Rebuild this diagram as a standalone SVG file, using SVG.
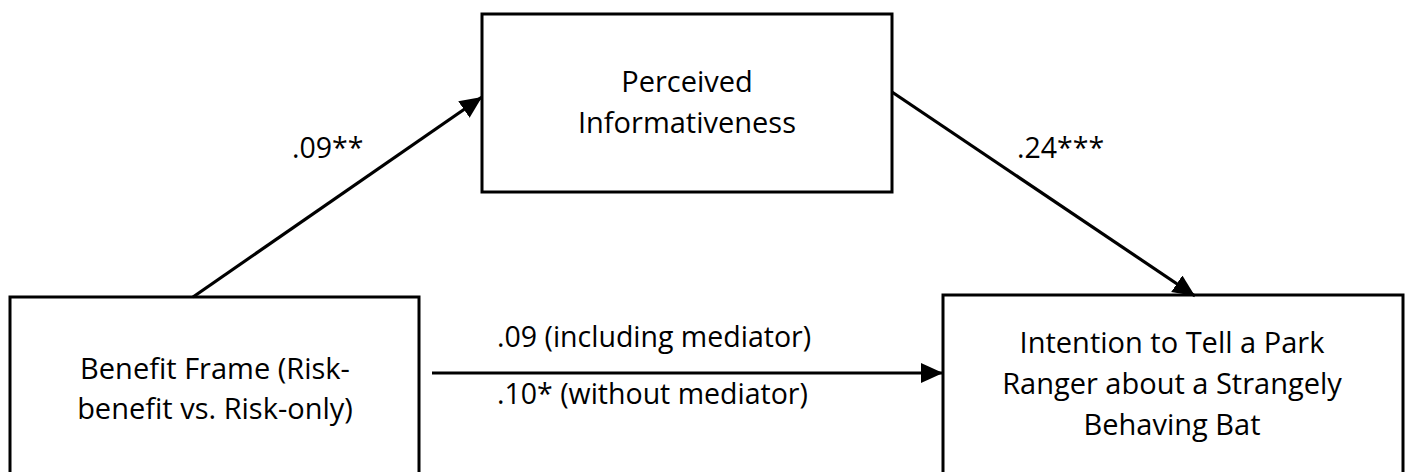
<svg xmlns="http://www.w3.org/2000/svg" width="1406" height="472" viewBox="0 0 1406 472">
  <style>
    .box { fill: #ffffff; stroke: #000000; stroke-width: 3; }
    .node-text { font-family: "Open Sans", "Liberation Sans", sans-serif; font-size: 29px; fill: #000000; text-anchor: middle; }
    .edge { stroke: #000000; stroke-width: 3.2; fill: none; marker-end: url(#arrow); }
    .edge-label { font-family: "Open Sans", "Liberation Sans", sans-serif; font-size: 28.5px; fill: #000000; }
  </style>
  <defs>
    <marker id="arrow" markerUnits="userSpaceOnUse" markerWidth="24" markerHeight="22" refX="22" refY="10" orient="auto">
      <path d="M0,0 L22,10 L0,20 Z" fill="#000000"/>
    </marker>
  </defs>
  <rect x="0" y="0" width="1406" height="472" fill="#ffffff"/>

  <g id="node-benefit-frame">
    <rect class="box" x="10" y="297" width="409" height="190"/>
    <text class="node-text" x="215" y="379">Benefit Frame (Risk-</text>
    <text class="node-text" x="215" y="419">benefit vs. Risk-only)</text>
  </g>

  <g id="node-perceived-informativeness">
    <rect class="box" x="482" y="14" width="410" height="178"/>
    <text class="node-text" x="687" y="92">Perceived</text>
    <text class="node-text" x="687" y="133">Informativeness</text>
  </g>

  <g id="node-intention">
    <rect class="box" x="943" y="295" width="460" height="192"/>
    <text class="node-text" x="1172" y="353">Intention to Tell a Park</text>
    <text class="node-text" x="1172" y="394">Ranger about a Strangely</text>
    <text class="node-text" x="1172" y="435">Behaving Bat</text>
  </g>

  <g id="connectors">
    <line class="edge" x1="193" y1="297" x2="482" y2="97"/>
    <line class="edge" x1="892" y1="92" x2="1195" y2="296"/>
    <line class="edge" x1="432" y1="373" x2="943" y2="373"/>
    <text class="edge-label" x="292" y="158">.09**</text>
    <text class="edge-label" x="1017" y="158">.24***</text>
    <text class="edge-label" x="497" y="347">.09 (including mediator)</text>
    <text class="edge-label" x="497" y="404">.10* (without mediator)</text>
  </g>
</svg>
